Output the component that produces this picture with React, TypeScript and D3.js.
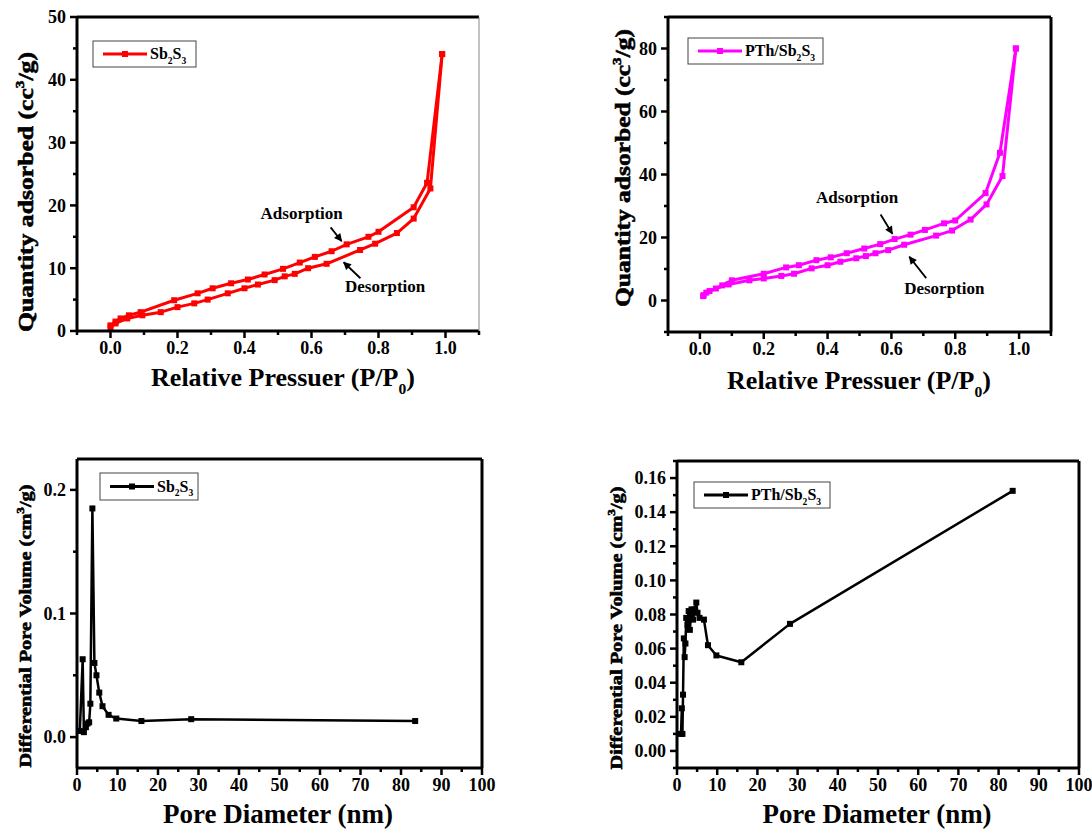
import React from "react";
import * as d3 from "d3";

const FONT = "'Liberation Serif', 'Times New Roman', serif";

// Sb2S3 N2 isotherm (relative pressure / quantity adsorbed)
const sbAdsP = [0.0, 0.015, 0.03, 0.055, 0.09, 0.19, 0.26, 0.305, 0.36, 0.41, 0.46, 0.515, 0.565, 0.61, 0.66, 0.705, 0.77, 0.8, 0.905, 0.945, 0.99];
const sbAdsQ = [0.9, 1.5, 2.0, 2.5, 3.0, 4.9, 6.0, 6.8, 7.6, 8.2, 9.0, 9.9, 10.9, 11.8, 12.7, 13.8, 15.0, 15.8, 19.7, 23.6, 44.1];
const sbDesP = [0.99, 0.955, 0.905, 0.855, 0.79, 0.745, 0.645, 0.59, 0.55, 0.52, 0.49, 0.44, 0.4, 0.35, 0.29, 0.25, 0.2, 0.15, 0.095, 0.05, 0.015, 0.0];
const sbDesQ = [44.1, 22.7, 17.9, 15.6, 13.9, 12.9, 10.7, 10.0, 9.1, 8.7, 8.1, 7.4, 6.8, 6.0, 5.0, 4.4, 3.8, 3.0, 2.5, 2.0, 1.2, 0.6];

// PTh/Sb2S3 isotherm
const ptAdsP = [0.012, 0.03, 0.07, 0.1, 0.2, 0.27, 0.31, 0.365, 0.41, 0.46, 0.515, 0.565, 0.61, 0.66, 0.705, 0.765, 0.8, 0.895, 0.94, 0.99];
const ptAdsQ = [1.7, 3.0, 4.8, 6.4, 8.5, 10.5, 11.2, 12.8, 13.7, 15.0, 16.5, 17.9, 19.5, 20.9, 22.4, 24.5, 25.4, 34.1, 46.9, 80.0];
const ptDesP = [0.99, 0.948, 0.898, 0.848, 0.79, 0.74, 0.64, 0.59, 0.55, 0.52, 0.49, 0.44, 0.4, 0.35, 0.295, 0.255, 0.2, 0.155, 0.09, 0.05, 0.02, 0.01];
const ptDesQ = [80.0, 39.5, 30.5, 25.7, 22.2, 20.6, 17.7, 16.0, 15.0, 14.1, 13.4, 12.3, 11.2, 10.2, 8.5, 7.8, 7.0, 6.4, 5.1, 3.8, 2.5, 1.4];

// pore size distributions
const sbPoreD = [0.7, 1.4, 1.7, 2.2, 2.6, 3.0, 3.3, 3.8, 4.3, 4.8, 5.5, 6.3, 7.8, 9.7, 15.9, 28.2, 83.5];
const sbPoreV = [0.005, 0.063, 0.004, 0.008, 0.011, 0.012, 0.027, 0.185, 0.06, 0.05, 0.036, 0.025, 0.018, 0.015, 0.013, 0.0145, 0.013];
const ptPoreD = [1.0, 1.2, 1.35, 1.5, 1.7, 1.9, 2.1, 2.3, 2.6, 2.9, 3.2, 3.6, 4.0, 4.4, 4.8, 5.1, 5.6, 6.7, 7.7, 9.8, 16.0, 28.1, 83.5];
const ptPoreV = [0.01, 0.025, 0.01, 0.033, 0.066, 0.055, 0.063, 0.078, 0.074, 0.082, 0.071, 0.083, 0.077, 0.083, 0.087, 0.081, 0.078, 0.077, 0.062, 0.056, 0.052, 0.0745, 0.1525];

// ticks
const isoXMajor = [0, 0.2, 0.4, 0.6, 0.8, 1.0];
const isoXMinor = [-0.1, 0.1, 0.3, 0.5, 0.7, 0.9, 1.1];
const sbYMajor = [0, 10, 20, 30, 40, 50];
const sbYMinor = [5, 15, 25, 35, 45];
const ptYMajor = [0, 20, 40, 60, 80];
const ptYMinor = [-10, 10, 30, 50, 70, 90];
const poreXMajor = [0, 10, 20, 30, 40, 50, 60, 70, 80, 90, 100];
const poreXMinor = [5, 15, 25, 35, 45, 55, 65, 75, 85, 95];
const sbPoreYMajor = [0, 0.1, 0.2];
const sbPoreYMinor = [0.05, 0.15];
const ptPoreYMajor = [0, 0.02, 0.04, 0.06, 0.08, 0.1, 0.12, 0.14, 0.16];
const ptPoreYMinor = [-0.01, 0.01, 0.03, 0.05, 0.07, 0.09, 0.11, 0.13, 0.15, 0.17];

function Sub({ parts, size }) {
  // parts: array of [text, isSub]
  const out = [];
  let down = false;
  parts.forEach(([t, s], i) => {
    let dy = 0;
    if (s && !down) { dy = size * 0.3; down = true; }
    else if (!s && down) { dy = -size * 0.3; down = false; }
    out.push(<tspan key={i} dy={dy} fontSize={s ? size * 0.6 : size}>{t}</tspan>);
  });
  return <>{out}</>;
}

function Panel(props) {
  const { box, xDomain, yDomain, xMajor, xMinor, yMajor, yMinor, xFmt, yFmt, series, thinRight } = props;
  const x = d3.scaleLinear().domain(xDomain).range([box.x0, box.x1]);
  const y = d3.scaleLinear().domain(yDomain).range([box.y1, box.y0]);
  const line = d3.line().x(d => x(d[0])).y(d => y(d[1]));
  return (
    <g>
      {series.map((s, i) => (
        <g key={i}>
          <path d={line(s.xs.map((v, j) => [v, s.ys[j]]))} fill="none" stroke={s.color} strokeWidth={s.width} strokeLinejoin="round" />
          {s.xs.map((v, j) => (
            <rect key={j} x={x(v) - s.marker / 2} y={y(s.ys[j]) - s.marker / 2} width={s.marker} height={s.marker} fill={s.color} />
          ))}
        </g>
      ))}
      {/* frame */}
      <line x1={box.x0} x2={box.x1} y1={box.y0} y2={box.y0} stroke="#000" strokeWidth={3} />
      <line x1={box.x0} x2={box.x0} y1={box.y0} y2={box.y1} stroke="#000" strokeWidth={3} />
      <line x1={box.x0} x2={box.x1} y1={box.y1} y2={box.y1} stroke="#000" strokeWidth={3} />
      <line x1={box.x1} x2={box.x1} y1={box.y0} y2={box.y1} stroke={thinRight ? "#888" : "#000"} strokeWidth={thinRight ? 1 : 3} />
      {/* ticks */}
      {xMajor.map(t => (
        <g key={"xm" + t}>
          <line x1={x(t)} x2={x(t)} y1={box.y1} y2={box.y1 + 7} stroke="#000" strokeWidth={2.5} />
          <text x={x(t)} y={box.y1 + 23} textAnchor="middle" fontSize={18} fontWeight="bold" fontFamily={FONT}>{xFmt(t)}</text>
        </g>
      ))}
      {xMinor.map(t => (
        <line key={"xn" + t} x1={x(t)} x2={x(t)} y1={box.y1} y2={box.y1 + 4} stroke="#000" strokeWidth={2.5} />
      ))}
      {yMajor.map(t => (
        <g key={"ym" + t}>
          <line x1={box.x0 - 7} x2={box.x0} y1={y(t)} y2={y(t)} stroke="#000" strokeWidth={2.5} />
          <text x={box.x0 - 11} y={y(t)} dy="0.35em" textAnchor="end" fontSize={18} fontWeight="bold" fontFamily={FONT}>{yFmt(t)}</text>
        </g>
      ))}
      {yMinor.map(t => (
        <line key={"yn" + t} x1={box.x0 - 4} x2={box.x0} y1={y(t)} y2={y(t)} stroke="#000" strokeWidth={2.5} />
      ))}
      {props.children ? props.children(x, y) : null}
    </g>
  );
}

function Legend({ bx, by, bw, bh, color, parts }) {
  const my = by + bh / 2;
  return (
    <g>
      <rect x={bx} y={by} width={bw} height={bh} fill="#fff" stroke="#444" strokeWidth={1} />
      <line x1={bx + 10} x2={bx + 54} y1={my} y2={my} stroke={color} strokeWidth={3} />
      <rect x={bx + 29} y={my - 3} width={6} height={6} fill={color} />
      <text x={bx + 57} y={my + 5} fontSize={16} fontWeight="bold" fontFamily={FONT}>
        <Sub parts={parts} size={16} />
      </text>
    </g>
  );
}

function Arrow({ x1, y1, x2, y2 }) {
  return <line x1={x1} y1={y1} x2={x2} y2={y2} stroke="#000" strokeWidth={1.8} markerEnd="url(#arrowHead)" />;
}

const fmt1 = d3.format(".1f");
const fmt2 = d3.format(".2f");
const fmtD = d3.format("d");

export default function App() {
  const sbLeg = [["Sb", false], ["2", true], ["S", false], ["3", true]];
  const ptLeg = [["PTh/Sb", false], ["2", true], ["S", false], ["3", true]];
  const heavy = { stroke: "#000", strokeWidth: 0.6 };
  return (
    <svg width={1092} height={830} style={{ position: "absolute", left: 0, top: 0, background: "#fff" }}>
      <defs>
        <marker id="arrowHead" viewBox="0 0 10 10" refX={9} refY={5} markerWidth={9} markerHeight={8} markerUnits="userSpaceOnUse" orient="auto">
          <path d="M0,0 L10,5 L0,10 z" fill="#000" />
        </marker>
      </defs>
      <rect width={1092} height={830} fill="#fff" />

      {/* top-left isotherm */}
      <Panel box={{ x0: 77, x1: 479, y0: 17, y1: 331 }} xDomain={[-0.1, 1.1]} yDomain={[0, 50]}
        xMajor={isoXMajor} xMinor={isoXMinor} yMajor={sbYMajor} yMinor={sbYMinor} xFmt={fmt1} yFmt={fmtD} thinRight
        series={[
          { xs: sbAdsP, ys: sbAdsQ, color: "#ff0000", width: 3, marker: 6 },
          { xs: sbDesP, ys: sbDesQ, color: "#ff0000", width: 3, marker: 6 },
        ]}>
        {(x, y) => (
          <g>
            <text x={x(0.448)} y={y(17.8)} fontSize={17} fontWeight="bold" fontFamily={FONT}>Adsorption</text>
            <Arrow x1={x(0.657)} y1={y(16.5)} x2={x(0.69)} y2={y(14.3)} />
            <text x={x(0.70)} y={y(6.2)} fontSize={17} fontWeight="bold" fontFamily={FONT}>Desorption</text>
            <Arrow x1={x(0.746)} y1={y(8.4)} x2={x(0.696)} y2={y(10.95)} />
          </g>
        )}
      </Panel>
      <Legend bx={93} by={41} bw={103} bh={26} color="#ff0000" parts={sbLeg} />

      {/* top-right isotherm */}
      <Panel box={{ x0: 668, x1: 1051, y0: 17, y1: 332 }} xDomain={[-0.1, 1.1]} yDomain={[-10, 90]}
        xMajor={isoXMajor} xMinor={isoXMinor} yMajor={ptYMajor} yMinor={ptYMinor} xFmt={fmt1} yFmt={fmtD}
        series={[
          { xs: ptAdsP, ys: ptAdsQ, color: "#ff00ff", width: 3, marker: 6 },
          { xs: ptDesP, ys: ptDesQ, color: "#ff00ff", width: 3, marker: 6 },
        ]}>
        {(x, y) => (
          <g>
            <text x={x(0.364)} y={y(31.1)} fontSize={17} fontWeight="bold" fontFamily={FONT}>Adsorption</text>
            <Arrow x1={x(0.566)} y1={y(27.3)} x2={x(0.603)} y2={y(21.2)} />
            <text x={x(0.64)} y={y(2.0)} fontSize={17} fontWeight="bold" fontFamily={FONT}>Desorption</text>
            <Arrow x1={x(0.709)} y1={y(7.1)} x2={x(0.656)} y2={y(13.9)} />
          </g>
        )}
      </Panel>
      <Legend bx={688} by={38} bw={135} bh={26} color="#ff00ff" parts={ptLeg} />

      {/* bottom-left pore distribution */}
      <Panel box={{ x0: 77, x1: 482, y0: 459, y1: 768 }} xDomain={[0, 100]} yDomain={[-0.025, 0.225]}
        xMajor={poreXMajor} xMinor={poreXMinor} yMajor={sbPoreYMajor} yMinor={sbPoreYMinor} xFmt={fmtD} yFmt={fmt1}
        series={[{ xs: sbPoreD, ys: sbPoreV, color: "#000", width: 2.5, marker: 6 }]} />
      <Legend bx={100} by={473} bw={98} bh={27} color="#000" parts={sbLeg} />

      {/* bottom-right pore distribution */}
      <Panel box={{ x0: 677, x1: 1079, y0: 461, y1: 768 }} xDomain={[0, 100]} yDomain={[-0.01, 0.17]}
        xMajor={poreXMajor} xMinor={poreXMinor} yMajor={ptPoreYMajor} yMinor={ptPoreYMinor} xFmt={fmtD} yFmt={fmt2}
        series={[{ xs: ptPoreD, ys: ptPoreV, color: "#000", width: 2.5, marker: 6 }]} />
      <Legend bx={694} by={482} bw={136} bh={26} color="#000" parts={ptLeg} />

      {/* axis titles */}
      <text x={283} y={386} textAnchor="middle" fontSize={26} fontWeight="bold" fontFamily={FONT}>
        <Sub parts={[["Relative Pressuer (P/P", false], ["0", true], [")", false]]} size={26} />
      </text>
      <text x={859} y={389} textAnchor="middle" fontSize={26} fontWeight="bold" fontFamily={FONT}>
        <Sub parts={[["Relative Pressuer (P/P", false], ["0", true], [")", false]]} size={26} />
      </text>
      <text x={278} y={823} textAnchor="middle" fontSize={27} fontWeight="bold" fontFamily={FONT} textLength={230} lengthAdjust="spacingAndGlyphs">Pore Diameter (nm)</text>
      <text x={877} y={823} textAnchor="middle" fontSize={27} fontWeight="bold" fontFamily={FONT} textLength={229} lengthAdjust="spacingAndGlyphs">Pore Diameter (nm)</text>

      <text transform="translate(33,192) rotate(-90)" textAnchor="middle" fontSize={22} fontWeight="bold" fontFamily={FONT} textLength={280} lengthAdjust="spacingAndGlyphs" {...heavy}>
        Quantity adsorbed (cc<tspan dy={-9} fontSize={13}>3</tspan><tspan dy={9}>/g)</tspan>
      </text>
      <text transform="translate(630,168) rotate(-90)" textAnchor="middle" fontSize={22} fontWeight="bold" fontFamily={FONT} textLength={278} lengthAdjust="spacingAndGlyphs" {...heavy}>
        Quantity adsorbed (cc<tspan dy={-9} fontSize={13}>3</tspan><tspan dy={9}>/g)</tspan>
      </text>
      <text transform="translate(31,626) rotate(-90)" textAnchor="middle" fontSize={17} fontWeight="bold" fontFamily={FONT} textLength={283} lengthAdjust="spacingAndGlyphs" {...heavy}>
        Differential Pore Volume (cm<tspan dy={-7} fontSize={11}>3</tspan><tspan dy={7}>/g)</tspan>
      </text>
      <text transform="translate(622,628) rotate(-90)" textAnchor="middle" fontSize={17} fontWeight="bold" fontFamily={FONT} textLength={283} lengthAdjust="spacingAndGlyphs" {...heavy}>
        Differential Pore Volume (cm<tspan dy={-7} fontSize={11}>3</tspan><tspan dy={7}>/g)</tspan>
      </text>
    </svg>
  );
}
